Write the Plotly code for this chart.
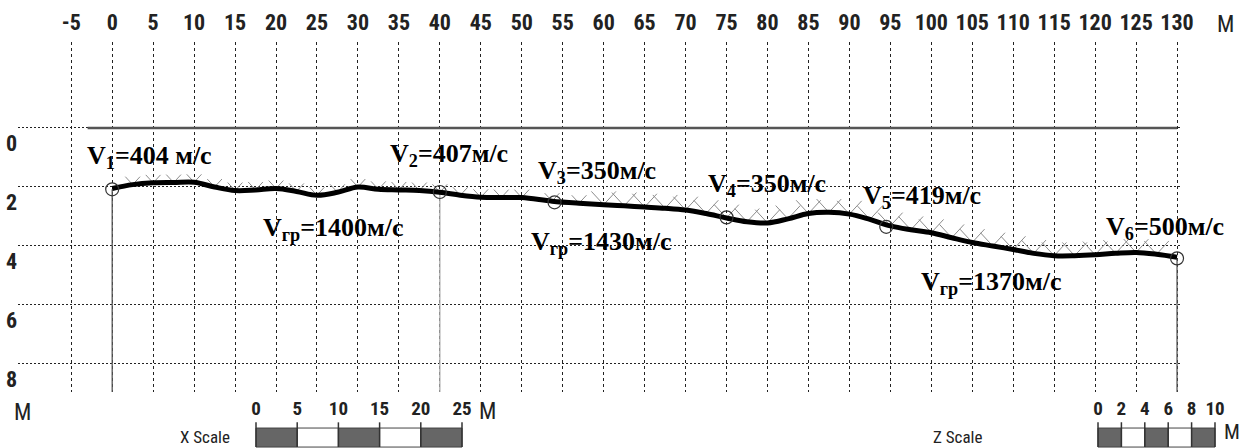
import plotly.graph_objects as go

# refractor surface (distance m, depth m)
surf_x = [0, 2.5, 5, 7.5, 10, 12.5, 15, 17.5, 20, 22.5, 25, 27.5, 30, 32.5, 35, 37.5,
          40, 42.5, 45, 47.5, 50, 53.7, 57, 60, 62.5, 65, 67.5, 70, 72.5, 75, 77.5,
          80, 82.5, 85, 87.5, 90, 92.5, 95, 97.5, 100, 102.5, 105, 107.5, 110, 112.5,
          115, 117.5, 120, 122.5, 125, 127.5, 130]
surf_d = [2.05, 1.92, 1.86, 1.85, 1.84, 2.0, 2.12, 2.1, 2.05, 2.15, 2.28, 2.18, 2.0, 2.08,
          2.1, 2.12, 2.18, 2.28, 2.35, 2.36, 2.36, 2.48, 2.55, 2.6, 2.64, 2.68, 2.72, 2.78,
          2.9, 3.05, 3.18, 3.22, 3.08, 2.9, 2.86, 2.92, 3.1, 3.32, 3.45, 3.55, 3.72, 3.88,
          4.0, 4.12, 4.25, 4.33, 4.33, 4.3, 4.25, 4.22, 4.28, 4.38]

# shot points
v_x = [0, 40, 54, 75, 94.5, 130]
v_d = [2.08, 2.17, 2.52, 3.03, 3.35, 4.42]

upper_labels = ["V<sub>1</sub>=404 м/с", "V<sub>2</sub>=407м/с", "V<sub>3</sub>=350м/с",
                "V<sub>4</sub>=350м/с", "V<sub>5</sub>=419м/с", "V<sub>6</sub>=500м/с"]
lower_labels = ["V<sub>гр</sub>=1400м/с", "V<sub>гр</sub>=1430м/с", "V<sub>гр</sub>=1370м/с"]

x_ticks = list(range(-5, 131, 5))
depth_ticks = [0, 2, 4, 6, 8]
xscale_vals = [0, 5, 10, 15, 20, 25]
zscale_vals = [0, 2, 4, 6, 8, 10]

# label positions (x, depth)
upper_pos = [(4.5, 0.98), (41.1, 0.92), (59.2, 1.49), (80.0, 1.93), (98.9, 2.34), (128.5, 3.39)]
lower_pos = [(27.0, 3.42), (59.7, 3.9), (107.3, 5.25)]

W, H = 1247, 448
NARROW = "Roboto Condensed, Noto Sans Condensed, Liberation Sans Narrow, Liberation Sans, sans-serif"
SERIF = "Liberation Serif, Times New Roman, serif"

fig = go.Figure()

# drops from shot points
for i in [0, 1, 5]:
    fig.add_trace(go.Scatter(x=[v_x[i], v_x[i]], y=[v_d[i], 9.5], mode="lines",
                             line=dict(color="#aaa" if i == 1 else "#555", width=1.3),
                             showlegend=False, hoverinfo="skip"))

# small ray chevrons sitting on the surface
chev_x, chev_y = [], []
for x, d in zip(surf_x[1:-1], surf_d[1:-1]):
    w = 0.9 if x < 60 else 1.5
    chev_x += [x - w, x, x + w, None]
    chev_y += [d - 0.3 * w, d, d - 0.3 * w, None]
fig.add_trace(go.Scatter(x=chev_x, y=chev_y, mode="lines",
                         line=dict(color="#8c8c8c", width=1),
                         showlegend=False, hoverinfo="skip"))

fig.add_trace(go.Scatter(x=surf_x, y=surf_d, mode="lines",
                         line=dict(color="black", width=5, shape="spline"),
                         showlegend=False))
fig.add_trace(go.Scatter(x=v_x, y=v_d, mode="markers",
                         marker=dict(symbol="circle-open", size=13, color="#333",
                                     line=dict(color="#333", width=1.2)),
                         showlegend=False, cliponaxis=False))

# surface line at depth 0
fig.add_shape(type="line", x0=-3, x1=130, y0=0, y1=0, xref="x", yref="y",
              line=dict(color="#555", width=2.5))

for txt, (px, pd) in zip(upper_labels + lower_labels, upper_pos + lower_pos):
    fig.add_annotation(x=px, y=pd, xref="x", yref="y", text="<b>" + txt + "</b>",
                       showarrow=False, font=dict(family=SERIF, size=26, color="black"))

# scale bars
def scale_bar(xref, yref, vals):
    for i in range(len(vals) - 1):
        fig.add_shape(type="rect", xref=xref, yref=yref, x0=vals[i], x1=vals[i + 1], y0=0, y1=1,
                      fillcolor="#666" if i % 2 == 0 else "white", line=dict(color="#444", width=1))
    for v in vals:
        fig.add_shape(type="line", xref=xref, yref=yref, x0=v, x1=v, y0=0, y1=1.3,
                      line=dict(color="#333", width=1.5))
    fig.add_trace(go.Scatter(x=vals, y=[1.95] * len(vals), xaxis=xref, yaxis=yref,
                             mode="text", text=[str(v) for v in vals], cliponaxis=False,
                             textfont=dict(family=NARROW, size=19, color="#222", weight="bold"),
                             showlegend=False, hoverinfo="skip"))

scale_bar("x2", "y2", xscale_vals)
scale_bar("x3", "y3", zscale_vals)

for txt, x, y, size in [("M", 1225, 25, 23), ("M", 22, 412, 23), ("M", 487, 411, 23),
                        ("M", 1232, 432, 21), ("X Scale", 205, 437, 17), ("Z Scale", 958, 437, 17)]:
    fig.add_annotation(x=x / W, y=1 - y / H, xref="paper", yref="paper", text=txt,
                       xanchor="center", yanchor="middle", showarrow=False,
                       font=dict(family=NARROW, size=size, color="#222"))

hidden = dict(visible=False, fixedrange=True, automargin=False)
fig.update_layout(
    width=W, height=H, margin=dict(l=0, r=0, t=0, b=0, autoexpand=False),
    paper_bgcolor="white", plot_bgcolor="white",
    xaxis=dict(domain=[18 / W, 1179.5 / W], range=[-11.5, 130.3], side="top",
               tickvals=x_ticks, ticktext=[str(t) for t in x_ticks], automargin=False,
               showgrid=True, gridcolor="#222", gridwidth=1.3,
               griddash="3px,3px", zeroline=False, showline=False, ticks="",
               ticklabelstandoff=7,
               tickfont=dict(family=NARROW, size=22, color="#222", weight="bold")),
    yaxis=dict(domain=[1 - 392 / H, 1 - 42 / H], range=[8.95, -2.915],
               tickvals=depth_ticks, showgrid=True, gridcolor="#222", gridwidth=1.2,
               griddash="2px,2px", zeroline=False, showline=False, ticks="",
               ticklabelshift=-15, ticklabelstandoff=0, automargin=False,
               tickfont=dict(family=NARROW, size=22, color="#222", weight="bold")),
    xaxis2=dict(domain=[251.06 / W, 466.94 / W], range=[-0.6, 25.6], anchor="y2", **hidden),
    yaxis2=dict(domain=[0, 50 / H], range=[-0.05, 2.58], anchor="x2", **hidden),
    xaxis3=dict(domain=[1094.5 / W, 1218.5 / W], range=[-0.3, 10.3], anchor="y3", **hidden),
    yaxis3=dict(domain=[0, 50 / H], range=[-0.05, 2.58], anchor="x3", **hidden),
)

fig.write_html(
    "out.html",
    config={"displayModeBar": False},
    post_script="document.body.style.margin='0px';"
                "document.body.style.overflow='hidden';"
                "document.documentElement.style.overflow='hidden';",
)
